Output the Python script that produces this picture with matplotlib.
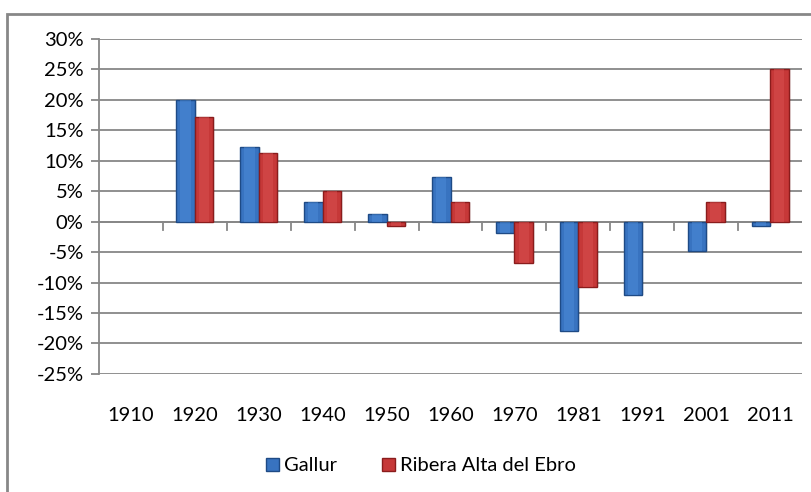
import matplotlib.pyplot as plt
import matplotlib.patches as mpatches
from matplotlib.ticker import FuncFormatter, FixedLocator
import numpy as np

plt.rcParams['font.family'] = ['Lato', 'DejaVu Sans']

years = ['1910', '1920', '1930', '1940', '1950', '1960', '1970', '1981', '1991', '2001', '2011']
# nan = no bar drawn
gallur = [np.nan, 20.0, 12.2, 3.2, 1.2, 7.4, -1.9, -17.9, -12.0, -4.9, -0.8]
ribera = [np.nan, 17.1, 11.2, 5.0, -0.8, 3.2, -6.8, -10.8, np.nan, 3.2, 25.0]
names = ['Gallur', 'Ribera Alta del Ebro']

blue = ('#3873C0', '#1E4A85', '#4F8FDB')
red = ('#C63838', '#8A1C1C', '#DC5454')

fig = plt.figure(figsize=(8.11, 4.92), dpi=100)
ax = fig.add_axes([0.122, 0.240, 0.867, 0.681])

x = np.arange(len(years))
w = 0.29

def draw(vals, offset, cols, label):
    pos = x + offset
    # soft shadow
    ax.bar(pos + 0.03, vals, w, color='#000000', alpha=0.08, zorder=2, linewidth=0)
    bars = ax.bar(pos, vals, w, color=cols[0], edgecolor=cols[1], linewidth=1.0,
                  zorder=3, label=label)
    # lighter centre strip for the bevel look
    ax.bar(pos, vals, w * 0.55, color=cols[2], alpha=0.45, zorder=4, linewidth=0)
    return bars

draw(gallur, -w / 2, blue, names[0])
draw(ribera, w / 2, red, names[1])

ax.set_xlim(-0.5, len(years) - 0.5)
ax.set_ylim(-25, 30)
ax.yaxis.set_major_locator(FixedLocator(np.arange(-25, 31, 5)))
ax.yaxis.set_major_formatter(FuncFormatter(lambda v, p: f'{v:.0f}%'))
ax.grid(axis='y', color='#878787', linewidth=1.3, zorder=0)
ax.set_axisbelow(True)

for s in ['top', 'right', 'bottom']:
    ax.spines[s].set_visible(False)
ax.spines['left'].set_color('#878787')
ax.spines['left'].set_linewidth(1.3)

ax.tick_params(axis='y', length=6, width=1.3, color='#878787', labelsize=14.5,
               labelcolor='#000000', pad=5)
ax.set_xticks(x)
ax.set_xticklabels(years, fontsize=14.5)
ax.tick_params(axis='x', length=0, pad=24)

# category axis along zero with boundary ticks
ax.axhline(0, color='#878787', linewidth=1.3, zorder=1)
for b in np.arange(0.5, len(years) - 0.5, 1):
    ax.plot([b, b], [0, -1.3], color='#878787', linewidth=1.3, zorder=1, clip_on=False)

handles = [mpatches.Patch(facecolor=blue[0], edgecolor=blue[1]),
           mpatches.Patch(facecolor=red[0], edgecolor=red[1])]
fig.legend(handles, names, loc='center', bbox_to_anchor=(0.519, 0.053), ncol=2,
           frameon=False, fontsize=14.5, handlelength=0.65, handleheight=0.65,
           handletextpad=0.25, columnspacing=2.2)

border = mpatches.Rectangle((7 / 811, -0.05), 1.1, 1 - 14 / 492 + 0.05,
                            transform=fig.transFigure, fill=False,
                            edgecolor='#878787', linewidth=2, clip_on=False)
fig.patches.append(border)

fig.savefig('out.png', dpi=100)
